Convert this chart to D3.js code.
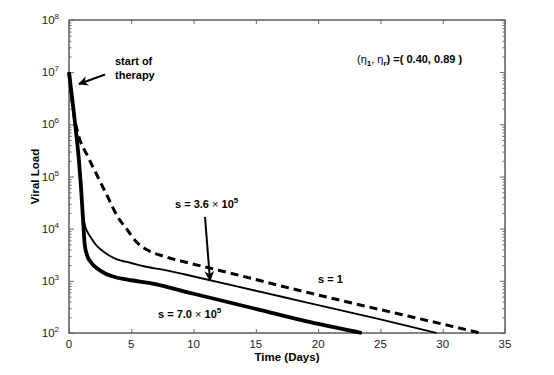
<!DOCTYPE html>
<html>
<head>
<meta charset="utf-8">
<script src="https://cdn.jsdelivr.net/npm/d3@7"></script>
<style>
  body { margin: 0; background: #fff; }
  svg text { font-family: "Liberation Sans", Arial, sans-serif; }
</style>
</head>
<body>
<svg id="chart" width="554" height="375"></svg>
<script>
const svg = d3.select("svg#chart");

// s = 1 (dashed)
const tDashed = [0, 0.2, 0.4, 0.72, 1.52, 2.3, 3.1, 3.9, 4.7, 5.4, 6.3, 7.7, 9.3, 12, 15, 17, 20, 25, 30, 33];
const vDashed = [1e7, 3.5e6, 1.5e6, 6.7e5, 2.4e5, 1e5, 4.1e4, 1.7e4, 9.4e3, 5.6e3, 3.9e3, 2.9e3, 2.3e3, 1600, 1060, 800, 535, 280, 148, 100];
// s = 3.6e5 (thin solid)
const tThin = [0, 0.2, 0.4, 0.6, 0.8, 0.95, 1.12, 1.26, 1.5, 1.8, 2.2, 2.6, 3.1, 3.66, 4.3, 5.0, 6.0, 7.7, 10.1, 15, 17, 20, 25, 29.5];
const vThin = [1e7, 4e6, 1.6e6, 6e5, 2e5, 7e4, 2e4, 1.2e4, 8.5e3, 6.5e3, 4.8e3, 3.9e3, 3.2e3, 2.7e3, 2.4e3, 2.2e3, 1.9e3, 1.6e3, 1.2e3, 645, 500, 343, 182, 100];
// s = 7.0e5 (thick solid)
const tThick = [0, 0.2, 0.4, 0.6, 0.8, 0.95, 1.12, 1.26, 1.45, 1.8, 2.3, 2.86, 3.6, 4.7, 6.6, 10, 15, 20, 23.5];
const vThick = [1e7, 4e6, 1.6e6, 6e5, 2e5, 7e4, 1.6e4, 5e3, 3.1e3, 2.2e3, 1.7e3, 1.4e3, 1.2e3, 1.05e3, 895, 566, 290, 149, 100];

const xTicks = [0, 5, 10, 15, 20, 25, 30, 35];
const yDecades = [2, 3, 4, 5, 6, 7, 8];

const margin = {left: 69, right: 49, top: 20, bottom: 42};
const W = 554, H = 375;
const x = d3.scaleLinear().domain([0, 35]).range([margin.left, W - margin.right]);
const y = d3.scaleLog().domain([1e2, 1e8]).range([H - margin.bottom, margin.top]);

const axisColor = "#666";
const minorTicks = [];
yDecades.slice(0, -1).forEach(e => { for (let k = 2; k <= 9; k++) minorTicks.push(k * Math.pow(10, e)); });
const majorY = yDecades.map(e => Math.pow(10, e));

function styleAxis(g) {
  g.select(".domain").remove();
  g.selectAll("line").attr("stroke", axisColor).attr("stroke-width", 1);
  g.selectAll("text").remove();
}

// x axes (bottom and top), ticks inside
svg.append("g").attr("transform", `translate(0,${y(1e2)})`)
  .call(d3.axisBottom(x).tickValues(xTicks).tickSize(-4)).call(styleAxis);
svg.append("g").attr("transform", `translate(0,${y(1e8)})`)
  .call(d3.axisTop(x).tickValues(xTicks).tickSize(-4)).call(styleAxis);
// y axes (left and right), major + minor ticks inside
svg.append("g").attr("transform", `translate(${x(0)},0)`)
  .call(d3.axisLeft(y).tickValues(majorY).tickSize(-5)).call(styleAxis);
svg.append("g").attr("transform", `translate(${x(0)},0)`)
  .call(d3.axisLeft(y).tickValues(minorTicks).tickSize(-2.5)).call(styleAxis);
svg.append("g").attr("transform", `translate(${x(35)},0)`)
  .call(d3.axisRight(y).tickValues(majorY).tickSize(-5)).call(styleAxis);
svg.append("g").attr("transform", `translate(${x(35)},0)`)
  .call(d3.axisRight(y).tickValues(minorTicks).tickSize(-2.5)).call(styleAxis);

// frame
svg.append("rect")
  .attr("x", x(0)).attr("y", y(1e8))
  .attr("width", x(35) - x(0)).attr("height", y(1e2) - y(1e8))
  .attr("fill", "none").attr("stroke", axisColor).attr("stroke-width", 1.6);

// tick labels
svg.append("g").selectAll("text").data(xTicks).enter().append("text")
  .attr("x", d => x(d)).attr("y", y(1e2) + 15)
  .attr("text-anchor", "middle").attr("font-size", 11.5).attr("fill", "#222")
  .text(d => d);

const yl = svg.append("g").selectAll("text").data(yDecades).enter().append("text")
  .attr("x", x(0) - 10).attr("y", d => y(Math.pow(10, d)) + 4)
  .attr("text-anchor", "end").attr("font-size", 11.5).attr("fill", "#222");
yl.append("tspan").text("10");
yl.append("tspan").attr("dy", -5).attr("font-size", 8).text(d => d);

// axis titles
svg.append("text")
  .attr("x", (x(0) + x(35)) / 2).attr("y", 361)
  .attr("text-anchor", "middle").attr("font-size", 11.5).attr("font-weight", "bold")
  .text("Time (Days)");
svg.append("text")
  .attr("transform", `translate(39,${(y(1e2) + y(1e8)) / 2}) rotate(-90)`)
  .attr("text-anchor", "middle").attr("font-size", 11.5).attr("font-weight", "bold")
  .text("Viral Load");

// curves
const line = d3.line().x(d => x(d[0])).y(d => y(d[1])).curve(d3.curveMonotoneX);
const zipped = (ts, vs) => ts.map((t, i) => [t, vs[i]]);

svg.append("path").datum(zipped(tDashed, vDashed))
  .attr("d", line).attr("fill", "none").attr("stroke", "#000")
  .attr("stroke-width", 3).attr("stroke-dasharray", "8,5");
svg.append("path").datum(zipped(tThin, vThin))
  .attr("d", line).attr("fill", "none").attr("stroke", "#000").attr("stroke-width", 1.9);
svg.append("path").datum(zipped(tThick, vThick))
  .attr("d", line).attr("fill", "none").attr("stroke", "#000").attr("stroke-width", 3.8);

// arrows
const defs = svg.append("defs");
defs.append("marker")
  .attr("id", "head").attr("viewBox", "0 -5 10 10")
  .attr("refX", 9).attr("refY", 0).attr("orient", "auto")
  .attr("markerUnits", "userSpaceOnUse")
  .attr("markerWidth", 11).attr("markerHeight", 10)
  .append("path").attr("d", "M0,-5 L10,0 L0,5 L3,0 Z").attr("fill", "#000");

svg.append("line")
  .attr("x1", 105).attr("y1", 74.5).attr("x2", 79).attr("y2", 84)
  .attr("stroke", "#000").attr("stroke-width", 2).attr("marker-end", "url(#head)");
svg.append("line")
  .attr("x1", 205).attr("y1", 217).attr("x2", 210).attr("y2", y(1030))
  .attr("stroke", "#000").attr("stroke-width", 2).attr("marker-end", "url(#head)");

// annotations
const fs = 11;
svg.append("text").attr("x", 115).attr("y", 65).attr("font-size", fs).attr("font-weight", "bold").text("start of");
svg.append("text").attr("x", 115).attr("y", 79).attr("font-size", fs).attr("font-weight", "bold").text("therapy");

const eta = svg.append("text").attr("x", 357).attr("y", 63).attr("font-size", fs).attr("font-weight", "bold");
eta.append("tspan").attr("font-weight", "normal").text("(η");
eta.append("tspan").attr("dy", 3).attr("font-size", 8).text("1");
eta.append("tspan").attr("dy", -3).attr("font-weight", "normal").text(", η");
eta.append("tspan").attr("dy", 3).attr("font-size", 8).text("r");
eta.append("tspan").attr("dy", -3).text(") =( 0.40, 0.89 )");

function sciLabel(xp, yp, mant) {
  const t = svg.append("text").attr("x", xp).attr("y", yp).attr("font-size", fs).attr("font-weight", "bold");
  t.append("tspan").text("s = " + mant + " ");
  t.append("tspan").attr("font-weight", "normal").text("×");
  t.append("tspan").text(" 10");
  t.append("tspan").attr("dy", -5).attr("font-size", 8).text("5");
}
sciLabel(175, 208, "3.6");
sciLabel(158, 318, "7.0");
svg.append("text").attr("x", 318).attr("y", 283).attr("font-size", fs).attr("font-weight", "bold").text("s = 1");
</script>
</body>
</html>
